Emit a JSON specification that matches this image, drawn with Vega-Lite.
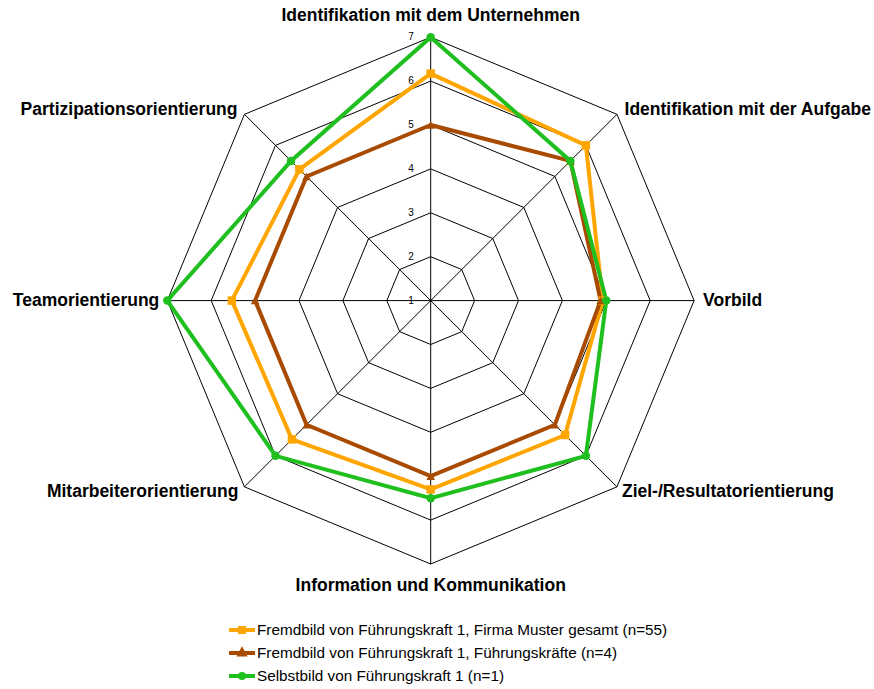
{
  "$schema": "https://vega.github.io/schema/vega-lite/v6.json",
  "width": 874,
  "height": 689,
  "autosize": {"type": "none"},
  "padding": 0,
  "background": "white",
  "config": {"view": {"stroke": null}, "font": "Liberation Sans"},
  "datasets": {
    "axes": [
      {"axis": "Identifikation mit dem Unternehmen", "idx": 0},
      {"axis": "Identifikation mit der Aufgabe", "idx": 1},
      {"axis": "Vorbild", "idx": 2},
      {"axis": "Ziel-/Resultatorientierung", "idx": 3},
      {"axis": "Information und Kommunikation", "idx": 4},
      {"axis": "Mitarbeiterorientierung", "idx": 5},
      {"axis": "Teamorientierung", "idx": 6},
      {"axis": "Partizipationsorientierung", "idx": 7}
    ],
    "rings": [
      {"level": 2, "idx": [0, 1, 2, 3, 4, 5, 6, 7]},
      {"level": 3, "idx": [0, 1, 2, 3, 4, 5, 6, 7]},
      {"level": 4, "idx": [0, 1, 2, 3, 4, 5, 6, 7]},
      {"level": 5, "idx": [0, 1, 2, 3, 4, 5, 6, 7]},
      {"level": 6, "idx": [0, 1, 2, 3, 4, 5, 6, 7]},
      {"level": 7, "idx": [0, 1, 2, 3, 4, 5, 6, 7]}
    ],
    "ticks": [
      {"level": 1}, {"level": 2}, {"level": 3}, {"level": 4}, {"level": 5}, {"level": 6}, {"level": 7}
    ],
    "scores": [
      {"series": "Fremdbild von Führungskraft 1, Firma Muster gesamt (n=55)", "axis": "Identifikation mit dem Unternehmen", "value": 6.17},
      {"series": "Fremdbild von Führungskraft 1, Firma Muster gesamt (n=55)", "axis": "Identifikation mit der Aufgabe", "value": 6.0},
      {"series": "Fremdbild von Führungskraft 1, Firma Muster gesamt (n=55)", "axis": "Vorbild", "value": 4.92},
      {"series": "Fremdbild von Führungskraft 1, Firma Muster gesamt (n=55)", "axis": "Ziel-/Resultatorientierung", "value": 5.33},
      {"series": "Fremdbild von Führungskraft 1, Firma Muster gesamt (n=55)", "axis": "Information und Kommunikation", "value": 5.3},
      {"series": "Fremdbild von Führungskraft 1, Firma Muster gesamt (n=55)", "axis": "Mitarbeiterorientierung", "value": 5.47},
      {"series": "Fremdbild von Führungskraft 1, Firma Muster gesamt (n=55)", "axis": "Teamorientierung", "value": 5.53},
      {"series": "Fremdbild von Führungskraft 1, Firma Muster gesamt (n=55)", "axis": "Partizipationsorientierung", "value": 5.23},
      {"series": "Fremdbild von Führungskraft 1, Führungskräfte (n=4)", "axis": "Identifikation mit dem Unternehmen", "value": 5.0},
      {"series": "Fremdbild von Führungskraft 1, Führungskräfte (n=4)", "axis": "Identifikation mit der Aufgabe", "value": 5.5},
      {"series": "Fremdbild von Führungskraft 1, Führungskräfte (n=4)", "axis": "Vorbild", "value": 4.87},
      {"series": "Fremdbild von Führungskraft 1, Führungskräfte (n=4)", "axis": "Ziel-/Resultatorientierung", "value": 5.0},
      {"series": "Fremdbild von Führungskraft 1, Führungskräfte (n=4)", "axis": "Information und Kommunikation", "value": 5.0},
      {"series": "Fremdbild von Führungskraft 1, Führungskräfte (n=4)", "axis": "Mitarbeiterorientierung", "value": 5.0},
      {"series": "Fremdbild von Führungskraft 1, Führungskräfte (n=4)", "axis": "Teamorientierung", "value": 5.0},
      {"series": "Fremdbild von Führungskraft 1, Führungskräfte (n=4)", "axis": "Partizipationsorientierung", "value": 5.0},
      {"series": "Selbstbild von Führungskraft 1 (n=1)", "axis": "Identifikation mit dem Unternehmen", "value": 7.0},
      {"series": "Selbstbild von Führungskraft 1 (n=1)", "axis": "Identifikation mit der Aufgabe", "value": 5.5},
      {"series": "Selbstbild von Führungskraft 1 (n=1)", "axis": "Vorbild", "value": 5.0},
      {"series": "Selbstbild von Führungskraft 1 (n=1)", "axis": "Ziel-/Resultatorientierung", "value": 6.0},
      {"series": "Selbstbild von Führungskraft 1 (n=1)", "axis": "Information und Kommunikation", "value": 5.5},
      {"series": "Selbstbild von Führungskraft 1 (n=1)", "axis": "Mitarbeiterorientierung", "value": 6.0},
      {"series": "Selbstbild von Führungskraft 1 (n=1)", "axis": "Teamorientierung", "value": 7.0},
      {"series": "Selbstbild von Führungskraft 1 (n=1)", "axis": "Partizipationsorientierung", "value": 5.5}
    ]
  },
  "layer": [
    {
      "data": {"name": "rings"},
      "transform": [
        {"flatten": ["idx"]},
        {"calculate": "(datum.level - 1) * sin(datum.idx * PI / 4)", "as": "px"},
        {"calculate": "(datum.level - 1) * cos(datum.idx * PI / 4)", "as": "py"}
      ],
      "mark": {"type": "line", "interpolate": "linear-closed", "color": "black", "strokeWidth": 1},
      "encoding": {
        "x": {"field": "px", "type": "quantitative", "scale": {"domain": [-9.811, 10.098], "nice": false, "zero": false}, "axis": null},
        "y": {"field": "py", "type": "quantitative", "scale": {"domain": [-8.847, 6.847], "nice": false, "zero": false}, "axis": null},
        "detail": {"field": "level", "type": "nominal"},
        "order": {"field": "idx", "type": "quantitative"}
      }
    },
    {
      "data": {"name": "axes"},
      "transform": [
        {"calculate": "6 * sin(datum.idx * PI / 4)", "as": "sx"},
        {"calculate": "6 * cos(datum.idx * PI / 4)", "as": "sy"},
        {"calculate": "0", "as": "ox"},
        {"calculate": "0", "as": "oy"}
      ],
      "mark": {"type": "rule", "color": "black", "strokeWidth": 1},
      "encoding": {
        "x": {"field": "ox", "type": "quantitative", "scale": {"domain": [-9.811, 10.098], "nice": false, "zero": false}, "axis": null},
        "y": {"field": "oy", "type": "quantitative", "scale": {"domain": [-8.847, 6.847], "nice": false, "zero": false}, "axis": null},
        "x2": {"field": "sx"},
        "y2": {"field": "sy"}
      }
    },
    {
      "data": {"name": "ticks"},
      "transform": [
        {"calculate": "0", "as": "px"},
        {"calculate": "datum.level - 1", "as": "py"}
      ],
      "mark": {"type": "text", "align": "right", "baseline": "middle", "dx": -17, "fontSize": 10, "color": "black"},
      "encoding": {
        "x": {"field": "px", "type": "quantitative", "scale": {"domain": [-9.811, 10.098], "nice": false, "zero": false}, "axis": null},
        "y": {"field": "py", "type": "quantitative", "scale": {"domain": [-8.847, 6.847], "nice": false, "zero": false}, "axis": null},
        "text": {"field": "level", "type": "nominal"}
      }
    },
    {
      "data": {"name": "scores"},
      "transform": [
        {"lookup": "axis", "from": {"data": {"name": "axes"}, "key": "axis", "fields": ["idx"]}},
        {"calculate": "(datum.value - 1) * sin(datum.idx * PI / 4)", "as": "px"},
        {"calculate": "(datum.value - 1) * cos(datum.idx * PI / 4)", "as": "py"}
      ],
      "encoding": {
        "x": {"field": "px", "type": "quantitative", "scale": {"domain": [-9.811, 10.098], "nice": false, "zero": false}, "axis": null},
        "y": {"field": "py", "type": "quantitative", "scale": {"domain": [-8.847, 6.847], "nice": false, "zero": false}, "axis": null},
        "color": {
          "field": "series",
          "type": "nominal",
          "scale": {
            "domain": ["Fremdbild von Führungskraft 1, Firma Muster gesamt (n=55)", "Fremdbild von Führungskraft 1, Führungskräfte (n=4)", "Selbstbild von Führungskraft 1 (n=1)"],
            "range": ["#FFA500", "#A84B00", "#1FBF1F"]
          },
          "legend": {
            "title": null,
            "orient": "none",
            "legendX": 230,
            "legendY": 618,
            "padding": 0,
            "symbolSize": 400,
            "symbolStrokeWidth": 4,
            "labelFont": "Liberation Sans",
            "labelFontSize": 15.3,
            "labelColor": "black",
            "labelOffset": 3,
            "labelLimit": 0,
            "rowPadding": 1,
            "encode": {
              "symbols": {
                "update": {
                  "shape": {"signal": "datum.value === 'Selbstbild von Führungskraft 1 (n=1)' ? 'M-1.3,0H1.3M-0.2,0A0.2,0.2 0 1,0 0.2,0A0.2,0.2 0 1,0 -0.2,0Z' : (datum.value === 'Fremdbild von Führungskraft 1, Führungskräfte (n=4)' ? 'M-1.3,0H1.3M0,-0.25L0.22,0.15H-0.22Z' : 'M-1.3,0H1.3M-0.2,-0.2H0.2V0.2H-0.2Z')"},
                  "stroke": {"scale": "color", "field": "value"},
                  "fill": {"scale": "color", "field": "value"},
                  "strokeWidth": {"value": 4},
                  "opacity": {"value": 1},
                  "fillOpacity": {"value": 1},
                  "strokeOpacity": {"value": 1}
                }
              }
            }
          }
        }
      },
      "layer": [
        {
          "mark": {"type": "line", "interpolate": "linear-closed", "strokeWidth": 4, "strokeJoin": "miter"},
          "encoding": {"order": {"field": "idx", "type": "quantitative"}}
        },
        {
          "transform": [{"filter": "datum.series === 'Fremdbild von Führungskraft 1, Firma Muster gesamt (n=55)'"}],
          "mark": {"type": "point", "filled": true, "opacity": 1, "size": 72, "shape": "square"}
        },
        {
          "transform": [{"filter": "datum.series === 'Fremdbild von Führungskraft 1, Führungskräfte (n=4)'"}],
          "mark": {"type": "point", "filled": true, "opacity": 1, "size": 75, "shape": "triangle-up"}
        },
        {
          "transform": [{"filter": "datum.series === 'Selbstbild von Führungskraft 1 (n=1)'"}],
          "mark": {"type": "point", "filled": true, "opacity": 1, "size": 72, "shape": "circle"}
        }
      ]
    },
    {
      "data": {"name": "axes"},
      "transform": [
        {"calculate": "6 * sin(datum.idx * PI / 4)", "as": "lx"},
        {"calculate": "6 * cos(datum.idx * PI / 4)", "as": "ly"}
      ],
      "encoding": {
        "x": {"field": "lx", "type": "quantitative", "scale": {"domain": [-9.811, 10.098], "nice": false, "zero": false}, "axis": null},
        "y": {"field": "ly", "type": "quantitative", "scale": {"domain": [-8.847, 6.847], "nice": false, "zero": false}, "axis": null},
        "text": {"field": "axis", "type": "nominal"}
      },
      "layer": [
        {"transform": [{"filter": "datum.idx === 0"}], "mark": {"type": "text", "align": "center", "baseline": "alphabetic", "dy": -16.5, "fontSize": 17.5, "fontWeight": "bold", "color": "black"}},
        {"transform": [{"filter": "datum.idx === 1"}], "mark": {"type": "text", "align": "left", "baseline": "alphabetic", "dx": 7.6, "dy": 1, "fontSize": 17.5, "fontWeight": "bold", "color": "black"}},
        {"transform": [{"filter": "datum.idx === 2"}], "mark": {"type": "text", "align": "left", "baseline": "alphabetic", "dx": 9, "dy": 5.7, "fontSize": 17.5, "fontWeight": "bold", "color": "black"}},
        {"transform": [{"filter": "datum.idx === 3"}], "mark": {"type": "text", "align": "left", "baseline": "alphabetic", "dx": 5, "dy": 10, "fontSize": 17.5, "fontWeight": "bold", "color": "black"}},
        {"transform": [{"filter": "datum.idx === 4"}], "mark": {"type": "text", "align": "center", "baseline": "alphabetic", "dy": 27.3, "fontSize": 17.5, "fontWeight": "bold", "color": "black"}},
        {"transform": [{"filter": "datum.idx === 5"}], "mark": {"type": "text", "align": "right", "baseline": "alphabetic", "dx": -6, "dy": 10, "fontSize": 17.5, "fontWeight": "bold", "color": "black"}},
        {"transform": [{"filter": "datum.idx === 6"}], "mark": {"type": "text", "align": "right", "baseline": "alphabetic", "dx": -8, "dy": 5.7, "fontSize": 17.5, "fontWeight": "bold", "color": "black"}},
        {"transform": [{"filter": "datum.idx === 7"}], "mark": {"type": "text", "align": "right", "baseline": "alphabetic", "dx": -7, "dy": 1, "fontSize": 17.5, "fontWeight": "bold", "color": "black"}}
      ]
    }
  ]
}
